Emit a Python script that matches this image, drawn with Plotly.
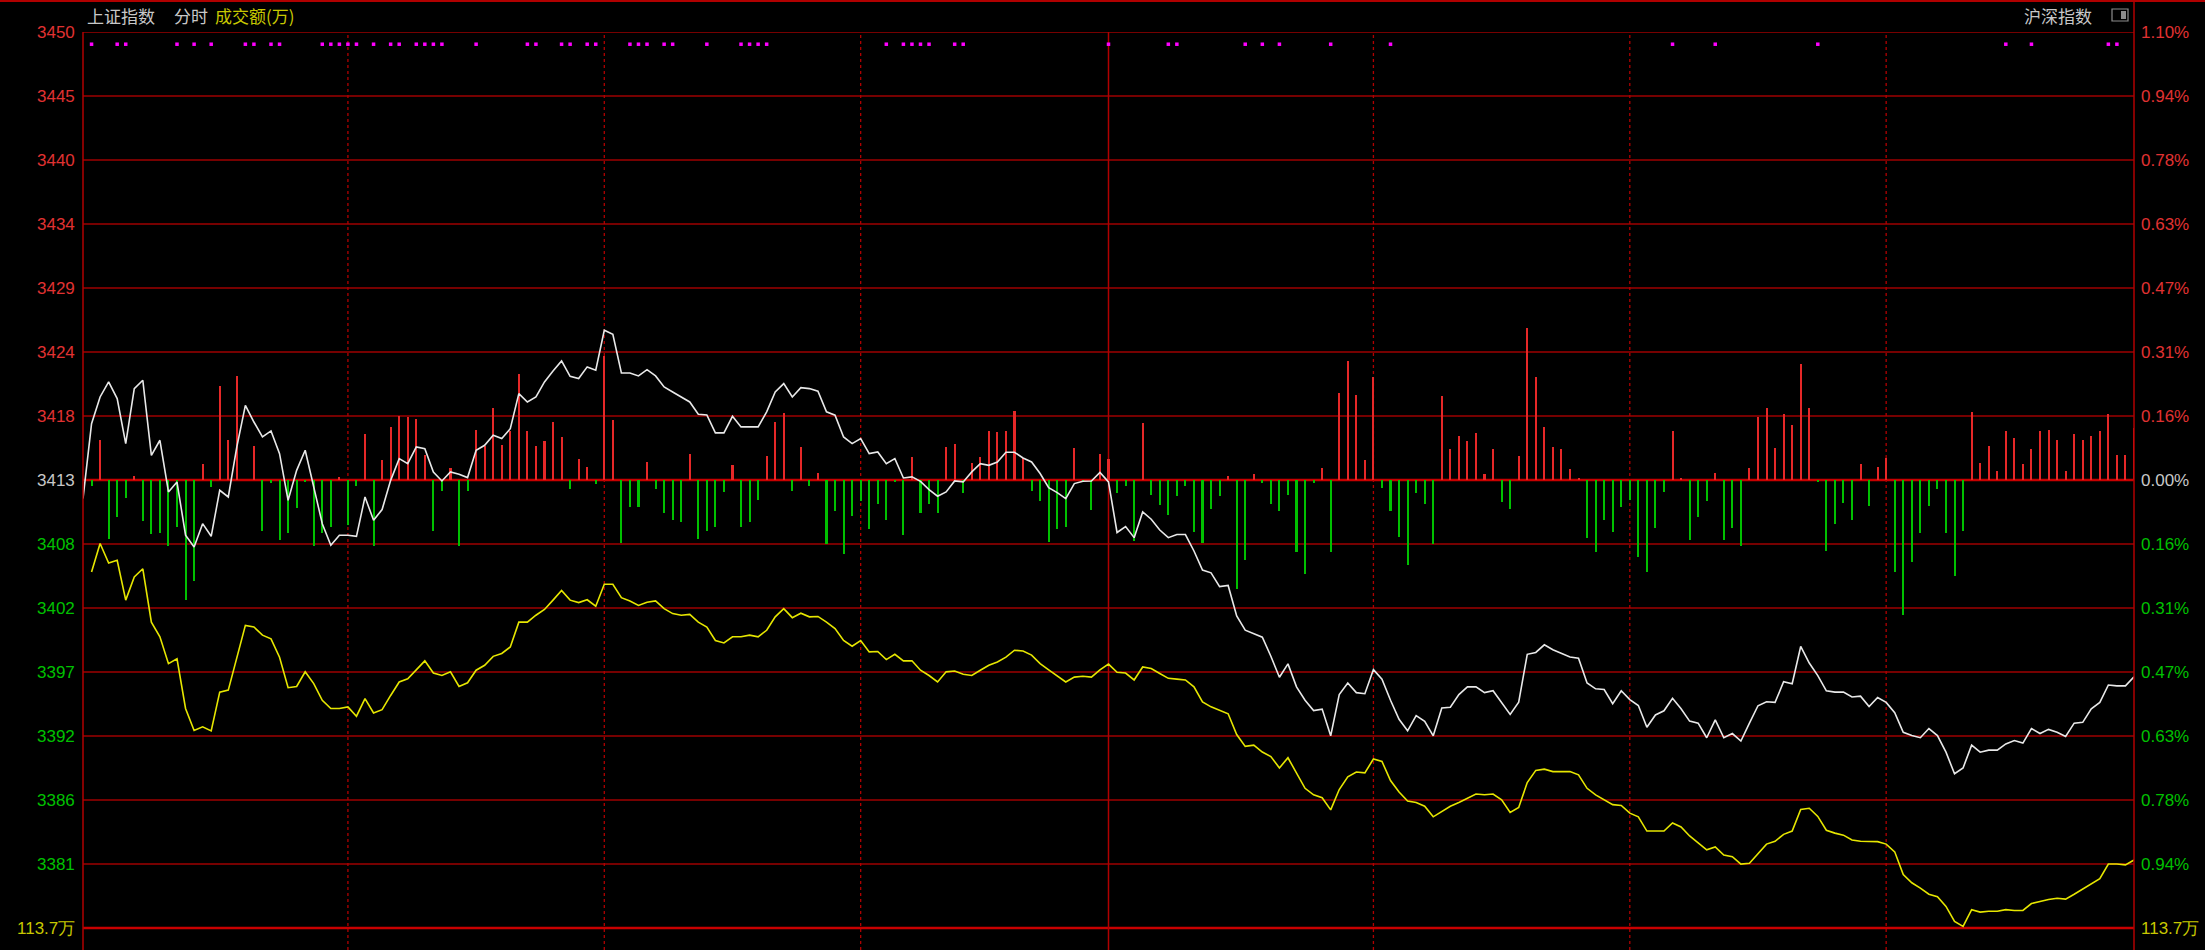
import plotly.graph_objects as go

# ---------------- data ----------------
prev_close = 3413.3            # 0.00% reference level of the index
grid_step_pct = 1.10 / 7       # one horizontal grid band in percent

minutes = list(range(241))     # 9:30 .. 15:00, one point per minute

# white line: 上证指数 (index points)
index_price = [
    3411.74, 3418.02, 3420.26, 3421.52, 3420.12, 3416.35, 3420.96, 3421.66, 3415.37, 3416.63,
    3412.30, 3413.13, 3408.67, 3407.69, 3409.64, 3408.58, 3412.44, 3411.88, 3416.07, 3419.56,
    3418.16, 3416.91, 3417.41, 3415.51, 3411.60, 3414.11, 3415.79, 3412.58, 3409.64, 3407.83,
    3408.67, 3408.67, 3408.58, 3411.88, 3409.92, 3410.82, 3413.27, 3415.09, 3414.67, 3416.07,
    3415.93, 3413.97, 3413.22, 3413.97, 3413.78, 3413.50, 3415.79, 3416.21, 3417.05, 3416.77,
    3417.60, 3420.54, 3419.84, 3420.26, 3421.52, 3422.44, 3423.28, 3421.99, 3421.80, 3422.78,
    3422.50, 3425.85, 3425.51, 3422.27, 3422.27, 3422.02, 3422.55, 3422.02, 3421.10, 3420.68,
    3420.26, 3419.84, 3418.81, 3418.75, 3417.25, 3417.25, 3418.64, 3417.75, 3417.75, 3417.75,
    3419.01, 3420.68, 3421.38, 3420.26, 3421.04, 3420.96, 3420.74, 3419.01, 3418.73, 3416.91,
    3416.35, 3416.77, 3415.51, 3415.65, 3414.67, 3415.09, 3413.47, 3413.56, 3413.19, 3412.50,
    3411.94, 3412.30, 3413.22, 3413.14, 3413.98, 3414.67, 3414.53, 3414.81, 3415.62, 3415.62,
    3415.15, 3414.81, 3413.84, 3412.66, 3412.24, 3411.74, 3413.00, 3413.19, 3413.22, 3413.94,
    3413.14, 3408.90, 3409.40, 3408.47, 3410.62, 3410.01, 3409.11, 3408.47, 3408.73, 3408.73,
    3407.35, 3405.75, 3405.52, 3404.37, 3404.46, 3401.90, 3400.71, 3400.45, 3400.13, 3398.53,
    3396.77, 3397.89, 3395.96, 3394.84, 3393.98, 3394.10, 3391.86, 3395.32, 3396.29, 3395.48,
    3395.39, 3397.41, 3396.61, 3394.84, 3393.24, 3392.28, 3393.56, 3393.08, 3391.86, 3394.20,
    3394.26, 3395.32, 3395.96, 3395.96, 3395.48, 3395.64, 3394.68, 3393.65, 3394.68, 3398.69,
    3398.85, 3399.49, 3399.08, 3398.79, 3398.47, 3398.37, 3396.29, 3395.80, 3395.74, 3394.55,
    3395.64, 3394.90, 3394.40, 3392.58, 3393.61, 3393.96, 3395.00, 3394.13, 3393.09, 3392.92,
    3391.70, 3393.20, 3391.70, 3392.05, 3391.42, 3392.92, 3394.38, 3394.72, 3394.66, 3396.39,
    3396.22, 3399.35, 3397.96, 3396.91, 3395.63, 3395.52, 3395.52, 3395.11, 3395.18, 3394.31,
    3395.07, 3394.66, 3393.79, 3392.15, 3391.88, 3391.70, 3392.47, 3391.88, 3390.49, 3388.68,
    3389.17, 3391.08, 3390.49, 3390.66, 3390.66, 3391.18, 3391.46, 3391.25, 3392.47, 3392.05,
    3392.40, 3392.15, 3391.81, 3392.92, 3392.99, 3394.13, 3394.66, 3396.12, 3396.05, 3396.05,
    3396.81,
]

# yellow line: 不含加权 index, percent change (starts at minute 1)
yellow_minutes = list(range(1, 241))
yellow_pct = [
    -0.226, -0.156, -0.204, -0.197, -0.295, -0.238, -0.218, -0.349, -0.385, -0.451,
    -0.439, -0.561, -0.615, -0.606, -0.616, -0.521, -0.516, -0.435, -0.357, -0.361,
    -0.381, -0.390, -0.435, -0.510, -0.507, -0.471, -0.500, -0.541, -0.561, -0.561,
    -0.557, -0.580, -0.537, -0.572, -0.564, -0.529, -0.496, -0.488, -0.467, -0.444,
    -0.474, -0.480, -0.471, -0.507, -0.498, -0.467, -0.455, -0.433, -0.426, -0.410,
    -0.349, -0.349, -0.332, -0.318, -0.295, -0.271, -0.295, -0.301, -0.294, -0.310,
    -0.256, -0.256, -0.289, -0.297, -0.308, -0.300, -0.297, -0.316, -0.328, -0.332,
    -0.330, -0.349, -0.361, -0.394, -0.400, -0.385, -0.385, -0.381, -0.385, -0.369,
    -0.336, -0.316, -0.338, -0.327, -0.336, -0.335, -0.349, -0.365, -0.394, -0.408,
    -0.394, -0.422, -0.421, -0.441, -0.428, -0.444, -0.444, -0.467, -0.480, -0.496,
    -0.471, -0.469, -0.477, -0.480, -0.467, -0.455, -0.447, -0.435, -0.418, -0.420,
    -0.430, -0.451, -0.466, -0.480, -0.496, -0.484, -0.482, -0.484, -0.466, -0.452,
    -0.472, -0.474, -0.491, -0.459, -0.463, -0.475, -0.487, -0.489, -0.491, -0.508,
    -0.545, -0.557, -0.566, -0.574, -0.625, -0.654, -0.651, -0.668, -0.679, -0.707,
    -0.682, -0.719, -0.757, -0.773, -0.780, -0.810, -0.760, -0.729, -0.717, -0.719,
    -0.685, -0.691, -0.738, -0.766, -0.788, -0.792, -0.801, -0.827, -0.813, -0.801,
    -0.792, -0.782, -0.771, -0.773, -0.771, -0.785, -0.816, -0.804, -0.743, -0.713,
    -0.710, -0.716, -0.716, -0.716, -0.724, -0.757, -0.773, -0.785, -0.797, -0.799,
    -0.818, -0.827, -0.862, -0.862, -0.862, -0.842, -0.852, -0.874, -0.892, -0.908,
    -0.901, -0.921, -0.925, -0.943, -0.941, -0.918, -0.894, -0.887, -0.870, -0.862,
    -0.809, -0.806, -0.826, -0.860, -0.867, -0.872, -0.884, -0.887, -0.888, -0.888,
    -0.894, -0.913, -0.969, -0.989, -1.002, -1.017, -1.023, -1.047, -1.084, -1.096,
    -1.055, -1.061, -1.059, -1.059, -1.055, -1.057, -1.057, -1.040, -1.035, -1.030,
    -1.027, -1.029, -1.017, -1.004, -0.992, -0.979, -0.943, -0.943, -0.945, -0.933,
]

# red / green strength bars (percent scale), None = no bar
bar_values = [
    None, -0.014, 0.098, -0.145, -0.092, -0.044, 0.009, -0.100, -0.133, -0.131,
    -0.161, -0.115, -0.295, -0.247, 0.039, -0.018, 0.232, 0.098, 0.256, None,
    0.084, -0.126, -0.008, -0.147, -0.129, -0.069, -0.004, -0.161, -0.129, -0.116,
    0.007, -0.110, -0.014, 0.113, -0.161, 0.048, 0.131, 0.158, 0.154, 0.150,
    0.062, -0.124, -0.026, 0.030, -0.161, -0.026, 0.123, 0.084, 0.177, 0.087,
    0.121, 0.260, 0.121, 0.084, 0.095, 0.143, 0.106, -0.022, 0.052, 0.033,
    -0.010, 0.305, 0.147, -0.154, -0.066, -0.066, 0.045, -0.021, -0.080, -0.097,
    -0.102, 0.064, -0.146, -0.124, -0.116, -0.029, 0.037, -0.116, -0.102, -0.048,
    0.059, 0.143, 0.165, -0.026, 0.080, -0.015, 0.018, -0.157, -0.075, -0.182,
    -0.088, -0.051, -0.121, -0.059, -0.098, -0.003, -0.135, 0.056, -0.080, -0.059,
    -0.080, 0.080, 0.088, -0.033, 0.041, 0.056, 0.121, 0.119, 0.121, 0.170,
    0.053, -0.026, -0.051, -0.152, -0.121, -0.116, 0.078, -0.003, -0.074, 0.064,
    0.052, -0.033, -0.014, -0.150, 0.141, -0.036, -0.061, -0.085, -0.040, -0.014,
    -0.127, -0.155, -0.071, -0.040, 0.011, -0.268, -0.197, 0.014, -0.008, -0.058,
    -0.075, -0.038, -0.177, -0.231, -0.008, 0.030, -0.177, 0.214, 0.291, 0.209,
    0.049, 0.254, -0.019, -0.077, -0.139, -0.209, -0.033, -0.058, -0.158, 0.207,
    0.077, 0.108, 0.096, 0.115, 0.014, 0.077, -0.055, -0.071, 0.058, 0.374,
    0.254, 0.130, 0.082, 0.077, 0.026, 0.005, -0.143, -0.177, -0.099, -0.127,
    -0.066, -0.050, -0.190, -0.227, -0.117, -0.030, 0.120, 0.005, -0.148, -0.091,
    -0.051, 0.018, -0.148, -0.117, -0.162, 0.029, 0.154, 0.178, 0.079, 0.161,
    0.135, 0.286, 0.178, -0.004, -0.175, -0.107, -0.056, -0.099, 0.039, -0.063,
    0.032, 0.054, -0.226, -0.331, -0.201, -0.129, -0.063, -0.022, -0.131, -0.236,
    -0.124, 0.166, 0.042, 0.083, 0.021, 0.120, 0.102, 0.039, 0.076, 0.120,
    0.123, 0.098, 0.021, 0.113, 0.098, 0.107, 0.120, 0.161, 0.062, 0.062,
    0.127,
]

# magenta markers along the top row (minutes)
marker_minutes = [1, 4, 5, 11, 13, 15, 19, 20, 22, 23, 28, 29, 30, 31, 32, 34, 36, 37,
                  39, 40, 41, 42, 46, 52, 53, 56, 57, 59, 60, 64, 65, 66, 68, 69, 73,
                  77, 78, 79, 80, 94, 96, 97, 98, 99, 102, 103, 120, 127, 128, 136,
                  138, 140, 146, 153, 186, 191, 203, 225, 228, 237, 238]
marker_row_pct = 1.07

left_labels = ["3450", "3445", "3440", "3434", "3429", "3424", "3418", "3413",
               "3408", "3402", "3397", "3392", "3386", "3381", "113.7万"]
right_labels = ["1.10%", "0.94%", "0.78%", "0.63%", "0.47%", "0.31%", "0.16%", "0.00%",
                "0.16%", "0.31%", "0.47%", "0.63%", "0.78%", "0.94%", "113.7万"]
grid_index = list(range(7, -8, -1))          # band index for each label row
half_hour_marks = [31, 61, 91, 151, 181, 211]  # dotted vertical separators
midday_mark = 120                               # solid 11:30/13:00 separator

# ---------------- styling ----------------
W, H = 2205, 950
L, R, T, B = 83, 2134, 32, 950
RED_GRID = "#9e0000"
RED_TXT = "#e03232"
GREEN_TXT = "#00c000"
GREY_TXT = "#c8c8c8"
YELLOW_TXT = "#c8c800"
FONT = "Liberation Sans, Arial, sans-serif"
CJK = "Noto Sans CJK SC, sans-serif"

plot_w = R - L
plot_h = B - T
y_top = 1.10
y_bottom = -1.10 - (B - (T + 14 * 64)) / 64 * grid_step_pct


def px_x(px):
    return (px - L) / plot_w


def px_y(py):
    return (B - py) / plot_h


white_pct = [(p / prev_close - 1) * 100 for p in index_price]
bar_x = [m for m, v in zip(minutes, bar_values) if v is not None]
bar_y = [v for v in bar_values if v is not None]
bar_colors = ["#e62828" if v > 0 else "#00c000" for v in bar_y]

fig = go.Figure()
fig.add_trace(go.Bar(x=bar_x, y=bar_y, width=0.24, marker=dict(color=bar_colors, line=dict(width=0)),
                     showlegend=False, hoverinfo="skip"))
fig.add_trace(go.Scatter(x=yellow_minutes, y=yellow_pct, mode="lines",
                         line=dict(color="#e6e600", width=1.6), showlegend=False))
fig.add_trace(go.Scatter(x=minutes, y=white_pct, mode="lines",
                         line=dict(color="#e8e8e8", width=1.6), showlegend=False))
fig.add_trace(go.Scatter(x=marker_minutes, y=[marker_row_pct] * len(marker_minutes), mode="markers",
                         marker=dict(symbol="square", size=3.5, color="#ff00ff"), showlegend=False))

shapes = []
annotations = []
for k, ltxt, rtxt in zip(grid_index, left_labels, right_labels):
    yv = k * grid_step_pct
    thick = k in (0, -7)
    shapes.append(dict(type="line", xref="paper", yref="y", x0=0, x1=1, y0=yv, y1=yv,
                       line=dict(color="#c80000" if thick else RED_GRID, width=2.5 if thick else 1.3),
                       layer="below"))
    if k > 0:
        c = RED_TXT
    elif k == 0:
        c = GREY_TXT
    elif k > -7:
        c = GREEN_TXT
    else:
        c = YELLOW_TXT
    annotations.append(dict(x=px_x(77), y=yv, xref="paper", yref="y", text=ltxt, showarrow=False,
                            xanchor="right", yanchor="middle", font=dict(family=FONT, size=17, color=c)))
    annotations.append(dict(x=px_x(2139), y=yv, xref="paper", yref="y", text=rtxt, showarrow=False,
                            xanchor="left", yanchor="middle",
                            font=dict(family=FONT, size=17, color=c)))

for m in half_hour_marks:
    shapes.append(dict(type="line", xref="x", yref="paper", x0=m, x1=m, y0=0, y1=1,
                       line=dict(color="#b00000", width=1.3, dash="dot"), layer="below"))
shapes.append(dict(type="line", xref="x", yref="paper", x0=midday_mark, x1=midday_mark, y0=0, y1=1,
                   line=dict(color="#b00000", width=1.5), layer="below"))
# frame
shapes.append(dict(type="line", xref="paper", yref="paper", x0=0, x1=0, y0=0, y1=1,
                   line=dict(color="#b00000", width=1.5)))
shapes.append(dict(type="line", xref="paper", yref="paper", x0=1, x1=1, y0=0, y1=px_y(0),
                   line=dict(color="#b00000", width=1.5)))
shapes.append(dict(type="line", xref="paper", yref="paper", x0=px_x(0), x1=px_x(W), y0=px_y(1), y1=px_y(1),
                   line=dict(color="#b00000", width=2)))
# small toggle icon at top right
shapes.append(dict(type="rect", xref="paper", yref="paper", x0=px_x(2112), x1=px_x(2128),
                   y0=px_y(21), y1=px_y(9), line=dict(color="#8c8c8c", width=1.2)))
shapes.append(dict(type="rect", xref="paper", yref="paper", x0=px_x(2121), x1=px_x(2126),
                   y0=px_y(19), y1=px_y(11), line=dict(width=0), fillcolor="#8c8c8c"))

annotations += [
    dict(x=px_x(85), y=px_y(16), xref="paper", yref="paper", text="上证指数", showarrow=False,
         xanchor="left", yanchor="middle", font=dict(family=CJK, size=17, color=GREY_TXT)),
    dict(x=px_x(172), y=px_y(16), xref="paper", yref="paper", text="分时", showarrow=False,
         xanchor="left", yanchor="middle", font=dict(family=CJK, size=17, color=GREY_TXT)),
    dict(x=px_x(213), y=px_y(16), xref="paper", yref="paper", text="成交额(万)", showarrow=False,
         xanchor="left", yanchor="middle", font=dict(family=CJK, size=17, color=YELLOW_TXT)),
    dict(x=px_x(2094), y=px_y(16), xref="paper", yref="paper", text="沪深指数", showarrow=False,
         xanchor="right", yanchor="middle", font=dict(family=CJK, size=17, color=GREY_TXT)),
]

fig.update_layout(
    width=W, height=H,
    margin=dict(l=L, r=W - R, t=T, b=H - B, pad=0),
    paper_bgcolor="black", plot_bgcolor="black",
    xaxis=dict(range=[0, 240], visible=False, showgrid=False, zeroline=False),
    yaxis=dict(range=[y_bottom, y_top], visible=False, showgrid=False, zeroline=False),
    bargap=0, shapes=shapes, annotations=annotations, showlegend=False,
)

fig.write_html(
    "out.html",
    config={"displayModeBar": False},
    post_script="document.body.style.margin='0';document.body.style.overflow='hidden';"
                "document.body.style.background='black';",
)
